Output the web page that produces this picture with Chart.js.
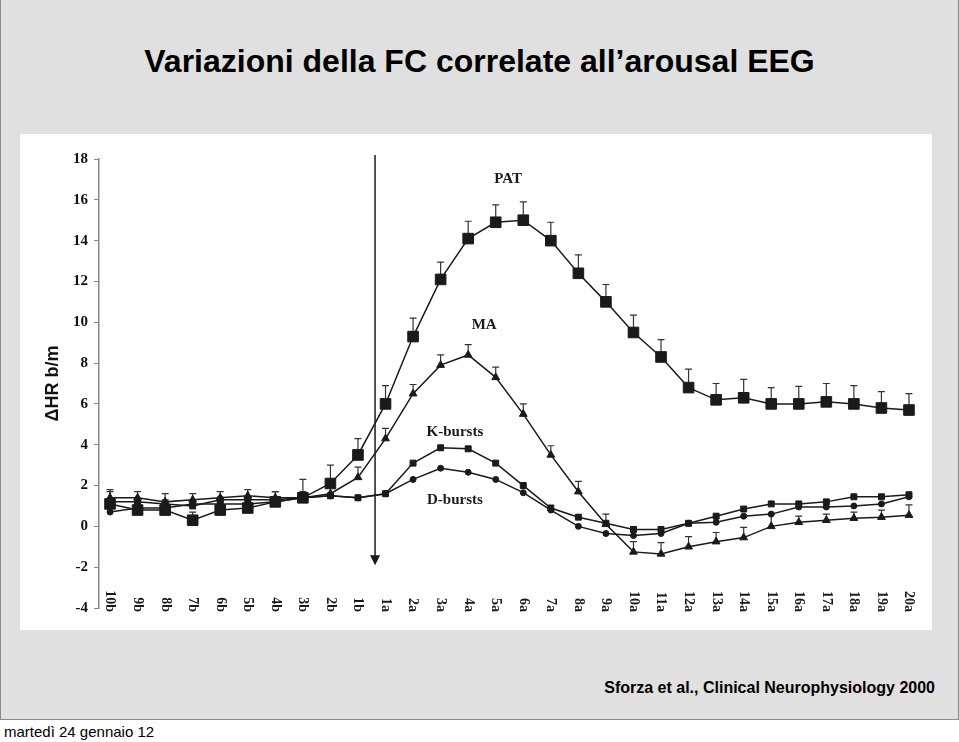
<!DOCTYPE html>
<html>
<head>
<meta charset="utf-8">
<title>Variazioni della FC correlate all'arousal EEG</title>
<script src="https://cdn.jsdelivr.net/npm/chart.js@4"></script>
<style>
  body { margin: 0; width: 959px; height: 742px; background: #fff; position: relative; overflow: hidden; }
  .slide { position: absolute; left: 0; top: 0; width: 959px; height: 720px; box-sizing: border-box;
           border: 1px solid #8a8a8a; border-top: none; background: #e0e0e0; }
  .title { position: absolute; left: 0; width: 959px; top: 41px; text-align: center;
           font: bold 32px "Liberation Sans", Arial, sans-serif; line-height: 40px; color: #000; }
  .panel { position: absolute; left: 20px; top: 134px; width: 912px; height: 496px; background: #fff; }
  .cite { position: absolute; right: 24px; top: 678px; font: bold 16px "Liberation Sans", Arial, sans-serif;
          line-height: 20px; color: #000; }
  .footer { position: absolute; left: 4px; top: 723px; font: 15px "Liberation Sans", Arial, sans-serif;
            line-height: 18px; color: #000; }
</style>
</head>
<body>
<div class="slide"></div>
<div class="title">Variazioni della FC correlate all’arousal EEG</div>
<div class="panel"><canvas id="hrChart" width="912" height="496"></canvas></div>
<div class="cite">Sforza et al., Clinical Neurophysiology 2000</div>
<div class="footer">martedì 24 gennaio 12</div>
<script>
// epochs before (b) and after (a) the arousal onset
const categories = ['10b', '9b', '8b', '7b', '6b', '5b', '4b', '3b', '2b', '1b',
    '1a', '2a', '3a', '4a', '5a', '6a', '7a', '8a', '9a', '10a',
    '11a', '12a', '13a', '14a', '15a', '16a', '17a', '18a', '19a', '20a'];

// ΔHR (b/m)
const pat = [1.1, 0.8, 0.8, 0.3, 0.8, 0.9, 1.2, 1.4, 2.1, 3.5,
    6.0, 9.3, 12.1, 14.1, 14.9, 15.0, 14.0, 12.4, 11.0, 9.5,
    8.3, 6.8, 6.2, 6.3, 6.0, 6.0, 6.1, 6.0, 5.8, 5.7];
const patErr = [0.6, 0.5, 0.5, 0.4, 0.4, 0.5, 0.5, 0.9, 0.9, 0.8,
    0.9, 0.9, 0.85, 0.85, 0.85, 0.9, 0.9, 0.9, 0.85, 0.85,
    0.85, 0.9, 0.8, 0.9, 0.8, 0.86, 0.9, 0.9, 0.8, 0.8];
const ma = [1.4, 1.4, 1.2, 1.3, 1.4, 1.5, 1.4, 1.4, 1.6, 2.4,
    4.3, 6.5, 7.9, 8.4, 7.3, 5.5, 3.5, 1.7, 0.1, -1.25,
    -1.35, -1.0, -0.75, -0.55, 0.0, 0.2, 0.3, 0.4, 0.45, 0.55];
const maErr = [0.4, 0.3, 0.4, 0.3, 0.3, 0.3, 0.3, 0.3, 0.4, 0.5,
    0.5, 0.45, 0.5, 0.5, 0.5, 0.5, 0.45, 0.5, 0.5, 0.5,
    0.55, 0.5, 0.45, 0.5, 0.6, 0.3, 0.3, 0.3, 0.35, 0.5];
const kBursts = [1.2, 1.2, 1.1, 1.0, 1.3, 1.3, 1.3, 1.4, 1.5, 1.4,
    1.6, 3.1, 3.85, 3.8, 3.1, 2.0, 0.9, 0.45, 0.15, -0.15,
    -0.15, 0.15, 0.5, 0.85, 1.1, 1.1, 1.2, 1.45, 1.45, 1.55];
const dBursts = [0.7, 0.9, 0.9, 1.1, 1.1, 1.1, 1.2, 1.4, 1.5, 1.4,
    1.6, 2.3, 2.85, 2.65, 2.3, 1.65, 0.8, 0.0, -0.35, -0.45,
    -0.35, 0.15, 0.2, 0.5, 0.6, 0.95, 0.95, 1.0, 1.1, 1.45];

// curve names written in the plot, at (epoch index, ΔHR)
const seriesNames = ['PAT', 'MA', 'K-bursts', 'D-bursts'];
const nameAt = [[14.45, 17.0], [13.58, 9.85], [12.52, 4.6], [12.52, 1.27]];

// arousal onset marker
const onsetAt = 9.62;
const onsetTop = 18.2;
const onsetBottom = -1.9;

const toPoints = arr => arr.map((v, i) => ({ x: i, y: v }));
const ink = '#1a1a1a';
const serif = '"Liberation Serif", "Times New Roman", serif';

function series(label, values, errs, style, radius) {
    return {
        label: label,
        data: toPoints(values),
        errors: errs,
        borderColor: ink,
        borderWidth: 1.5,
        pointStyle: style,
        pointRadius: radius,
        pointBackgroundColor: ink,
        pointBorderColor: ink,
        pointBorderWidth: 1,
        tension: 0,
        clip: false
    };
}

const errorBars = {
    id: 'errorBars',
    beforeDatasetsDraw(chart) {
        const ctx = chart.ctx;
        const y = chart.scales.y;
        ctx.save();
        ctx.strokeStyle = '#333';
        ctx.lineWidth = 1.2;
        chart.data.datasets.forEach((ds, i) => {
            if (!ds.errors) return;
            chart.getDatasetMeta(i).data.forEach((pt, j) => {
                const top = y.getPixelForValue(ds.data[j].y + ds.errors[j]);
                ctx.beginPath();
                ctx.moveTo(pt.x, pt.y);
                ctx.lineTo(pt.x, top);
                ctx.moveTo(pt.x - 3.5, top);
                ctx.lineTo(pt.x + 3.5, top);
                ctx.stroke();
            });
        });
        ctx.restore();
    }
};

const extras = {
    id: 'extras',
    afterDraw(chart) {
        const ctx = chart.ctx;
        const x = chart.scales.x;
        const y = chart.scales.y;
        ctx.save();

        // onset arrow
        const ax = x.getPixelForValue(onsetAt);
        const aTop = y.getPixelForValue(onsetTop);
        const aTip = y.getPixelForValue(onsetBottom);
        ctx.strokeStyle = ink;
        ctx.fillStyle = ink;
        ctx.lineWidth = 1.5;
        ctx.beginPath();
        ctx.moveTo(ax, aTop);
        ctx.lineTo(ax, aTip - 8);
        ctx.stroke();
        ctx.beginPath();
        ctx.moveTo(ax - 5, aTip - 10);
        ctx.lineTo(ax + 5, aTip - 10);
        ctx.lineTo(ax, aTip);
        ctx.closePath();
        ctx.fill();

        // curve names
        ctx.font = 'bold 15px ' + serif;
        ctx.textAlign = 'center';
        ctx.textBaseline = 'middle';
        seriesNames.forEach((name, i) => {
            ctx.fillText(name, x.getPixelForValue(nameAt[i][0]), y.getPixelForValue(nameAt[i][1]));
        });

        // epoch labels, rotated to read downwards
        const base = y.getPixelForValue(-4) + 4;
        ctx.font = 'bold 14px ' + serif;
        ctx.textAlign = 'right';
        categories.forEach((lab, i) => {
            ctx.save();
            ctx.translate(x.getPixelForValue(i), base);
            ctx.rotate(Math.PI / 2);
            ctx.fillText(lab, 0, 0);
            ctx.restore();
        });
        ctx.restore();
    }
};

new Chart(document.getElementById('hrChart'), {
    type: 'line',
    data: {
        datasets: [
            series('PAT', pat, patErr, 'rect', 7.5),
            series('MA', ma, maErr, 'triangle', 4.5),
            series('K-bursts', kBursts, null, 'rect', 4.2),
            series('D-bursts', dBursts, null, 'circle', 3)
        ]
    },
    options: {
        responsive: false,
        animation: false,
        layout: { padding: { left: 0, right: 12, top: 25, bottom: 22 } },
        plugins: {
            legend: { display: false },
            tooltip: { enabled: false }
        },
        scales: {
            x: {
                type: 'linear',
                min: -0.4,
                max: 29.4,
                display: false
            },
            y: {
                min: -4,
                max: 18,
                ticks: {
                    stepSize: 2,
                    padding: 6,
                    color: '#111',
                    font: { family: serif, size: 15, weight: 'bold' }
                },
                grid: {
                    drawOnChartArea: false,
                    drawTicks: true,
                    tickLength: 5,
                    color: '#888'
                },
                border: { display: true, color: '#888', width: 1.5 },
                title: {
                    display: true,
                    text: 'ΔHR b/m',
                    color: '#111',
                    font: { family: '"Liberation Sans", Arial, sans-serif', size: 18, weight: 'bold' },
                    padding: { top: 22, bottom: 0 }
                },
                afterFit(scale) {
                    scale.width = 79;
                }
            }
        }
    },
    plugins: [errorBars, extras]
});
</script>
</body>
</html>
